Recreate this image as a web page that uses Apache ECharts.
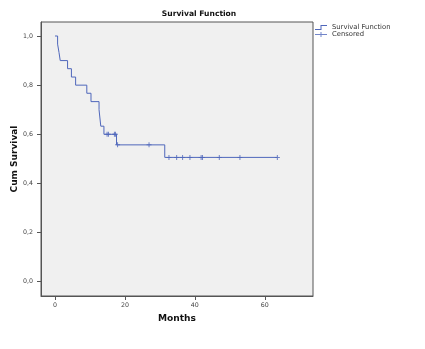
<!DOCTYPE html>
<html>
<head>
<meta charset="utf-8">
<script src="https://cdn.jsdelivr.net/npm/echarts@6/dist/echarts.min.js"></script>
<style>
  html, body { margin: 0; padding: 0; background: #ffffff; }
  #chart { width: 425px; height: 349px; }
</style>
</head>
<body>
<div id="chart"></div>
<script>
// Kaplan-Meier estimate: event times (months) and survival after each event
const eventTimes = [0, 0.75, 1.15, 1.5, 3.6, 4.7, 5.9, 9.1, 10.3, 12.6, 13.1, 14.0, 17.6, 31.4, 63.6];
const survival   = [1.0, 0.967, 0.933, 0.9, 0.867, 0.833, 0.8, 0.767, 0.733, 0.7, 0.633, 0.6, 0.557, 0.506, 0.506];
// Censored observations (months)
const censoredTimes = [14.9, 15.3, 17.0, 17.3, 17.9, 26.9, 32.6, 34.8, 36.5, 38.6, 41.8, 42.2, 47.0, 52.9, 63.6];
// Axis ticks
const xTicks = [0, 20, 40, 60];
const yTicks = [0, 0.2, 0.4, 0.6, 0.8, 1.0];

const lineColor = '#4f67bb';
const axisColor = '#555555';
const font = 'DejaVu Sans';

// survival level in effect at time t (step function)
function survivalAt(t) {
  let s = survival[0];
  for (let i = 0; i < eventTimes.length; i++) {
    if (eventTimes[i] <= t) s = survival[i];
  }
  return s;
}

const curve = eventTimes.map((t, i) => [t, survival[i]]);
const censored = censoredTimes.map(t => [t, survivalAt(t)]);

const stepIcon = 'path://M0,8 H11 V0 H24 V2 H13 V10 H0 Z';
const plusIcon = 'path://M0,4 H11 V0 H13 V4 H24 V6 H13 V10 H11 V6 H0 Z';
const plusMark = 'path://M0,4 H4 V0 H6 V4 H10 V6 H6 V10 H4 V6 H0 Z';

const chart = echarts.init(document.getElementById('chart'), null, { renderer: 'canvas' });
chart.setOption({
  animation: false,
  backgroundColor: '#ffffff',
  title: {
    text: 'Survival Function',
    left: 199,
    top: 10,
    textAlign: 'center',
    padding: 0,
    textStyle: { fontFamily: font, fontWeight: 'bold', fontSize: 7.6, color: '#111' }
  },
  legend: {
    orient: 'vertical',
    left: 315,
    top: 24,
    padding: 0,
    itemGap: 0,
    itemWidth: 12,
    itemHeight: 5,
    textStyle: { fontFamily: font, fontSize: 6.8, color: '#333', lineHeight: 7 },
    data: [
      { name: 'Survival Function', icon: stepIcon },
      { name: 'Censored', icon: plusIcon }
    ]
  },
  grid: {
    left: 41, right: 112, top: 22, bottom: 53,
    containLabel: false,
    outerBoundsMode: 'none',
    show: true,
    backgroundColor: '#f0f0f0',
    borderColor: axisColor,
    borderWidth: 1
  },
  xAxis: {
    type: 'value',
    min: -4,
    max: 73.8,
    name: 'Months',
    nameLocation: 'middle',
    nameGap: 18,
    nameMoveOverlap: false,
    nameTextStyle: { fontFamily: font, fontWeight: 'bold', fontSize: 9.1, color: '#111' },
    axisLine: { show: true, onZero: false, lineStyle: { color: axisColor, width: 1 } },
    axisTick: { show: true, length: 4, lineStyle: { color: axisColor }, customValues: xTicks },
    axisLabel: { fontFamily: font, fontSize: 6.3, color: '#444', margin: 6, customValues: xTicks },
    splitLine: { show: false }
  },
  yAxis: {
    type: 'value',
    min: -0.058,
    max: 1.057,
    name: 'Cum Survival',
    nameLocation: 'middle',
    nameGap: 22,
    nameMoveOverlap: false,
    nameTextStyle: { fontFamily: font, fontWeight: 'bold', fontSize: 9, color: '#111' },
    axisLine: { show: true, onZero: false, lineStyle: { color: axisColor, width: 1 } },
    axisTick: { show: true, length: 4, lineStyle: { color: axisColor }, customValues: yTicks },
    axisLabel: {
      fontFamily: font, fontSize: 6.3, color: '#444', margin: 8, customValues: yTicks,
      formatter: v => v.toFixed(1).replace('.', ',')
    },
    splitLine: { show: false }
  },
  series: [
    {
      name: 'Survival Function',
      type: 'line',
      step: 'end',
      data: curve,
      showSymbol: false,
      color: lineColor,
      lineStyle: { color: lineColor, width: 1 },
      silent: true
    },
    {
      name: 'Censored',
      type: 'scatter',
      data: censored,
      symbol: plusMark,
      symbolSize: [5, 5],
      color: lineColor,
      itemStyle: { color: lineColor },
      silent: true
    }
  ]
});
</script>
</body>
</html>
